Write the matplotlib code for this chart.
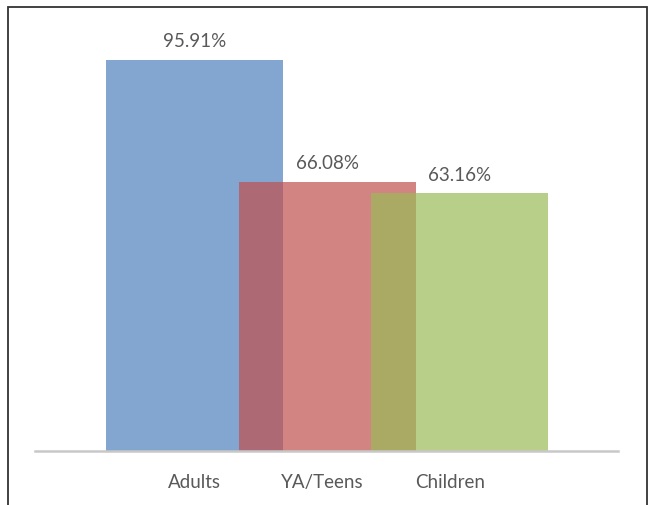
import matplotlib
matplotlib.use("Agg")
import matplotlib.pyplot as plt
from matplotlib.patches import Rectangle

categories = ["Adults", "YA/Teens", "Children"]
values = [95.91, 66.08, 63.16]
value_labels = ["95.91%", "66.08%", "63.16%"]
colors = ["#4F81BD", "#C0504D", "#9BBB59"]
bar_pos = [0, 1, 2]
label_pos = [0, 0.962, 1.928]

plt.rcParams['font.family'] = ['Lato', 'DejaVu Sans']

fig = plt.figure(figsize=(6.49, 5.06), dpi=100)
ax = fig.add_axes([35/649, 54/506, 583/649, 407.7/506])

ax.bar(bar_pos, values, width=1.336, color=colors, alpha=0.7, linewidth=0)
for x, v, t in zip(bar_pos, values, value_labels):
    ax.annotate(t, (x, v), xytext=(0, 14), textcoords='offset points',
                ha='center', va='center', fontsize=13.5, color='#595959')

ax.set_xlim(-1.204, 3.196)
ax.set_ylim(0, 100)
ax.set_yticks([])
ax.set_xticks(label_pos)
ax.set_xticklabels(categories, fontsize=13.5, color='#595959')
ax.tick_params(axis='x', length=0, pad=16)
for s in ['top', 'right', 'left']:
    ax.spines[s].set_visible(False)
ax.spines['bottom'].set_color('#C8C8C8')
ax.spines['bottom'].set_linewidth(1.8)

border = Rectangle((8/649, -0.1), (647-8)/649, 1.1 - 8/506, transform=fig.transFigure,
                   fill=False, edgecolor='#333333', linewidth=1.3, clip_on=False)
fig.patches.append(border)

fig.savefig("out.png", dpi=100)
